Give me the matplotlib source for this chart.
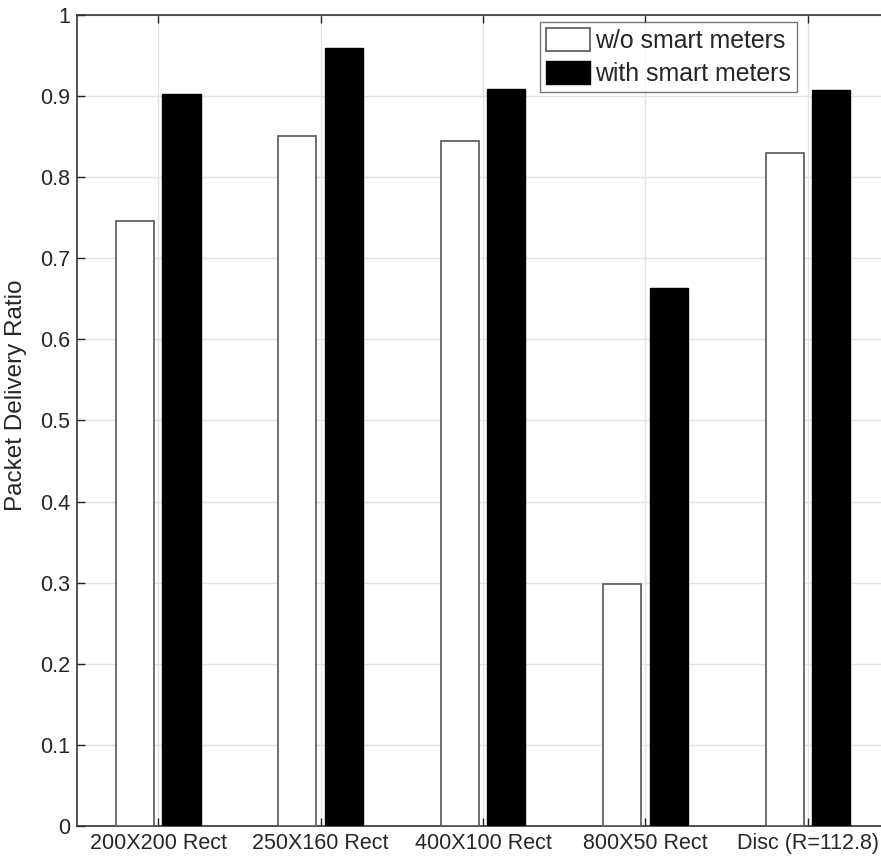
import matplotlib.pyplot as plt
import numpy as np

categories = ['200X200 Rect', '250X160 Rect', '400X100 Rect', '800X50 Rect', 'Disc (R=112.8)']
without_sm = [0.746, 0.851, 0.845, 0.298, 0.830]
with_sm = [0.903, 0.959, 0.909, 0.663, 0.907]

plt.rcParams['font.family'] = ['Liberation Sans', 'DejaVu Sans']
txt = '#262626'

fig = plt.figure(figsize=(8.81, 8.61), dpi=100)
ax = fig.add_axes([0.0874, 0.0407, 0.9217, 0.942])

x = np.arange(1, len(categories) + 1)
width = 0.235
off = 0.143
ax.bar(x - off, without_sm, width, color='white', edgecolor='#555555', linewidth=1.2,
       label='w/o smart meters', zorder=3)
ax.bar(x + off, with_sm, width, color='black', edgecolor='black', linewidth=1.0,
       label='with smart meters', zorder=3)

ax.set_xlim(0.5, 5.5)
ax.set_ylim(0, 1)
ax.set_xticks(x)
ax.set_xticklabels(categories)
ax.set_yticks(np.arange(0, 1.01, 0.1))
ax.set_yticklabels(['0', '0.1', '0.2', '0.3', '0.4', '0.5', '0.6', '0.7', '0.8', '0.9', '1'])
ax.tick_params(direction='in', length=6, width=1, colors=txt, labelsize=15.5,
               top=True, right=True, pad=5)
ax.grid(True, color='#e3e3e3', linewidth=1, zorder=0)
ax.set_axisbelow(True)
for s in ax.spines.values():
    s.set_color('#333333')
    s.set_linewidth(1.2)
ax.set_ylabel('Packet Delivery Ratio', fontsize=17.5, color=txt)
ax.yaxis.set_label_coords(-0.062, 0.531)

leg = ax.legend(loc='upper left', bbox_to_anchor=(540 / 881, 1 - 22 / 861),
                bbox_transform=fig.transFigure, fontsize=17.9, frameon=True,
                fancybox=False, handlelength=1.75, handleheight=1.05,
                handletextpad=0.2, labelspacing=0.3, borderpad=0.25,
                borderaxespad=0)
leg.get_frame().set_edgecolor('#555555')
leg.get_frame().set_linewidth(1.0)
for t in leg.get_texts():
    t.set_color(txt)

fig.savefig('out.png', dpi=100)
